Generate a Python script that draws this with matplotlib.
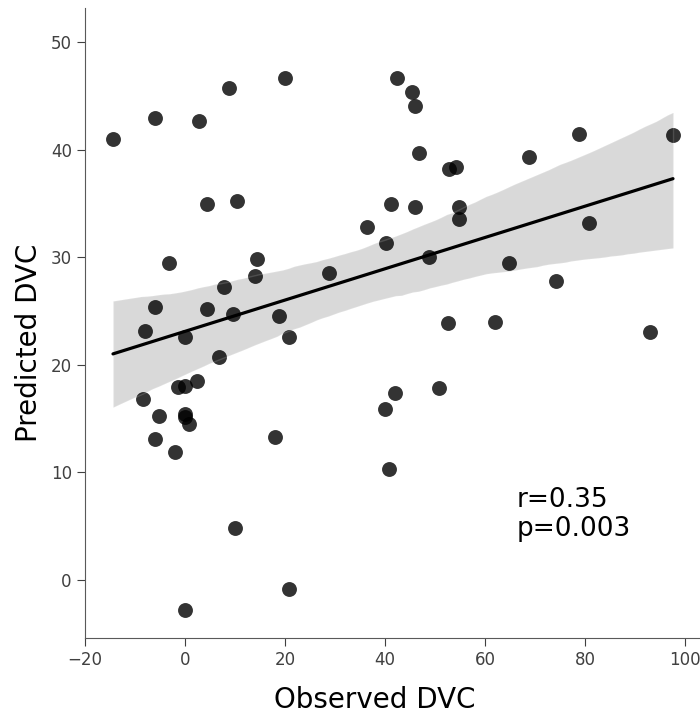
import matplotlib
matplotlib.use("Agg")
from matplotlib import pyplot as plt
import seaborn as sns
import numpy as np

# observed vs predicted DVC
observed = [
    -14.4, -6.0, 2.8, 8.8, 20.0, 4.4, 10.4, 41.2, 36.4, 40.2,
    -3.2, 14.4, 14.0, 28.8, 7.8, -6.0, 4.4, 9.6, 18.8, -8.0,
    0.0, 20.8, 6.8, -1.4, 0.0, 2.4, -8.4, -5.2, 0.0, 0.0,
    0.8, -6.0, -2.0, 18.0, 10.0, 20.8, 0.0, 40.0, 40.8, 42.0,
    52.6, 62.0, 93.0, 50.8, 42.4, 45.4, 46.0, 46.8, 52.8, 54.2,
    68.8, 78.8, 97.6, 46.0, 54.8, 54.8, 48.8, 64.8, 80.8, 74.2,
]
predicted = [
    41.0, 43.0, 42.7, 45.8, 46.7, 35.0, 35.2, 35.0, 32.8, 31.3,
    29.5, 29.8, 28.3, 28.5, 27.2, 25.4, 25.2, 24.7, 24.5, 23.1,
    22.6, 22.6, 20.7, 17.9, 18.0, 18.5, 16.8, 15.2, 15.4, 15.1,
    14.5, 13.1, 11.9, 13.3, 4.8, -0.9, -2.8, 15.9, 10.3, 17.4,
    23.9, 24.0, 23.0, 17.8, 46.7, 45.4, 44.1, 39.7, 38.2, 38.4,
    39.3, 41.5, 41.4, 34.7, 34.7, 33.6, 30.0, 29.5, 33.2, 27.8,
]
stats_text = "r=0.35\np=0.003"

sns.set_style("ticks")

fig = plt.figure(figsize=(7, 7.15), dpi=100)
ax = fig.add_axes([0.1214, 0.1077, 0.8786, 0.8811])

sns.regplot(x=np.array(observed), y=np.array(predicted), ax=ax, color="k",
            seed=0, scatter_kws={"s": 115, "alpha": 0.8, "linewidths": 0},
            line_kws={"lw": 2.3})

sns.despine(ax=ax)
ax.set_xlim(-20, 103)
ax.set_ylim(-5.44, 53.2)
ax.set_xticks([-20, 0, 20, 40, 60, 80, 100])
ax.set_yticks([0, 10, 20, 30, 40, 50])
ax.tick_params(labelsize=12, colors=".25", length=6)
for sp in ax.spines.values():
    sp.set_color(".35")

ax.set_xlabel("Observed DVC", fontsize=20, color="k")
ax.set_ylabel("Predicted DVC", fontsize=20, color="k")
ax.xaxis.set_label_coords(0.4715, -0.076)
ax.yaxis.set_label_coords(-0.068, 0.469)

ax.text(66.4, 4.1, stats_text, fontsize=19, va="baseline", ha="left",
        linespacing=1.15, color="k")

fig.savefig("out.png", dpi=100)
